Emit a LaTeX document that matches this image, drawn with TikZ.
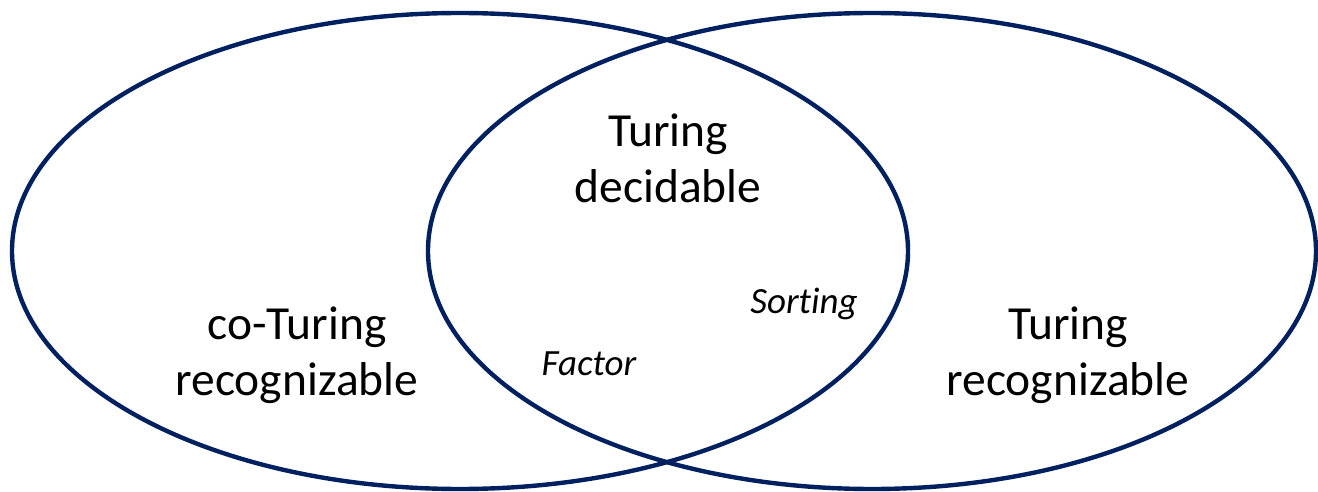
\documentclass[tikz,border=0pt]{standalone}
\usepackage{fontspec}
\setmainfont{Carlito}[Ligatures=NoCommon]
\usetikzlibrary{shapes.geometric}
\definecolor{navy}{RGB}{0,32,96}
\begin{document}
\begin{tikzpicture}[x=1pt,y=-1pt,
  setshape/.style={ellipse, draw=navy, line width=4.4pt, inner sep=0pt, outer sep=0pt},
  classlabel/.style={align=center, font=\fontsize{47.5}{56}\selectfont, inner sep=0pt},
  example/.style={anchor=base, font=\fontsize{37}{44}\selectfont\itshape, inner sep=0pt}]
  \useasboundingbox (0,0) rectangle (1318,492);
  % the two overlapping classes
  \node[setshape, minimum width=896pt, minimum height=476pt] (coR) at (460,251) {};
  \node[setshape, minimum width=888pt, minimum height=476pt] (R) at (872,251) {};
  % class names
  \node[classlabel] (coRlabel) at (297,355) {co-Turing\\recognizable};
  \node[classlabel] (Rlabel) at (1068,355) {Turing\\recognizable};
  \node[classlabel] (Dlabel) at (668,158) {Turing\\decidable};
  % example problems (the t and i are kept as separate letters)
  \node[example] (sorting) at (804,313) {Sort\kern0pt ing};
  \node[example] (factor) at (589,375) {Factor};
\end{tikzpicture}
\end{document}
